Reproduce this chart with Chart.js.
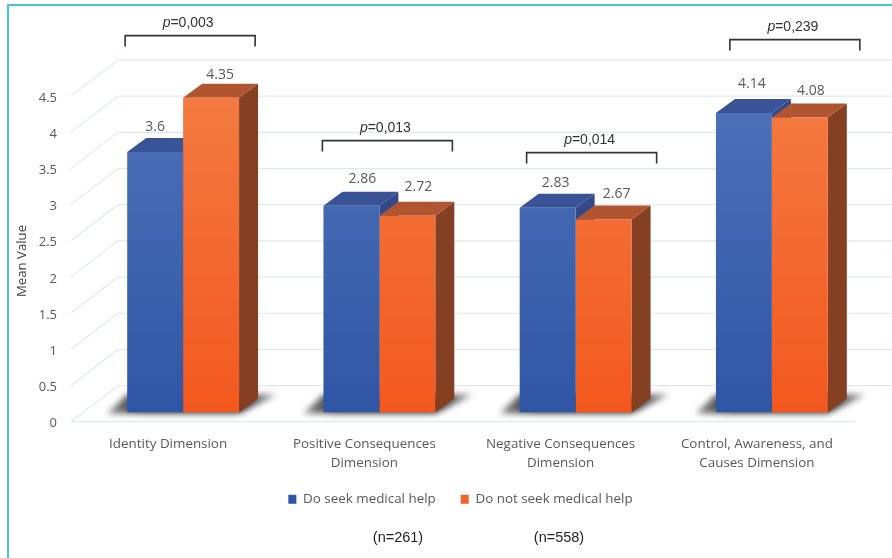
<!DOCTYPE html>
<html><head><meta charset="utf-8">
<style>html,body{margin:0;padding:0;background:#fff}#w{position:absolute;left:0;top:0;width:892px;height:558px}canvas{filter:blur(.4px)}</style>
<script src="https://cdn.jsdelivr.net/npm/chart.js@4"></script></head>
<body><div id="w"><canvas id="c" width="892" height="558"></canvas></div>
<script>
const categories=[['Identity Dimension'],['Positive Consequences','Dimension'],['Negative Consequences','Dimension'],['Control, Awareness, and','Causes Dimension']];
const seriesNames=['Do seek medical help','Do not seek medical help'];
const seekValues=[3.6,2.86,2.83,4.14];
const notSeekValues=[4.35,2.72,2.67,4.08];
const pLabels=['0,003','0,013','0,014','0,239'];
const sampleNotes=['(n=261)','(n=558)'];

const FONT='"Open Sans", sans-serif', TEXT='#595959', ARIAL='"Liberation Sans", Arial, sans-serif';
const GRID='#e2e9ec';
const faces=[{top:'#3a5396',side:'#34498a',hi:'#4f72b8',lo:'#2f55a5'},{top:'#b0552f',side:'#853f22',hi:'#f37b42',lo:'#f2581e'}];
const depth={x:19,y:14};
const wall={x:47,y:36,front:9};
const brackets=[{dx:7,top:377},{dx:8,top:272},{dx:16,top:260},{dx:23,top:373}];
const labelNudge=[[[0,-11],[9,-9]],[[11,-13],[11,-15]],[[8,-11],[13,-11]],[[8,-15],[11,-12]]];

function fillPoly(ctx,pts,fill){ctx.beginPath();pts.forEach((p,i)=>i?ctx.lineTo(p[0],p[1]):ctx.moveTo(p[0],p[1]));ctx.closePath();ctx.fillStyle=fill;ctx.fill();}
function gradient(ctx,area,hi,lo){const g=ctx.createLinearGradient(0,area.top,0,area.bottom);g.addColorStop(0,hi);g.addColorStop(1,lo);return g;}

const scene={id:'scene',
 afterLayout(chart){chart.legend.left+=18;chart.legend.right+=18;chart.scales.x.bottom+=25;},
 beforeDraw(chart){const c=chart.ctx;c.save();c.fillStyle='#fff';c.fillRect(0,0,892,558);
  c.strokeStyle='#45c6d6';c.lineWidth=2;c.beginPath();c.moveTo(8,558);c.lineTo(8,5);c.lineTo(892,5);c.stroke();c.restore();},
 beforeDatasetsDraw(chart){const c=chart.ctx,y=chart.scales.y,x=chart.scales.x;c.save();
  const L=x.left-14,R=x.right-15;
  c.strokeStyle=GRID;c.lineWidth=1.2;
  y.ticks.forEach(t=>{const py=y.getPixelForValue(t.value)+wall.front;
    c.beginPath();c.moveTo(L,py);c.lineTo(L+wall.x,py-wall.y);
    c.lineTo(R+wall.x,py-wall.y);c.stroke();});
  const b0=y.getPixelForValue(0)+wall.front;c.beginPath();c.moveTo(L,b0);c.lineTo(R,b0);c.stroke();
  const m0=chart.getDatasetMeta(0).data,m1=chart.getDatasetMeta(1).data;
  m0.forEach((bar,i)=>{const l=bar.x-bar.width/2,o=m1[i],r=o.x+o.width/2,b=bar.base;
    c.save();c.filter='blur(3px)';
    const g=c.createLinearGradient(l-22,0,r+41,0);g.addColorStop(0,'rgba(60,60,60,.55)');g.addColorStop(.2,'rgba(40,40,40,.95)');g.addColorStop(.8,'rgba(40,40,40,.95)');g.addColorStop(1,'rgba(80,80,80,.45)');
    fillPoly(c,[[l-20,b+1],[l,b-18],[r+38,b-18],[r,b+1]],g);c.restore();});
  [m0,m1].forEach((m,d)=>m.forEach(bar=>{const l=bar.x-bar.width/2,r=bar.x+bar.width/2,t=bar.y,b=bar.base;
    fillPoly(c,[[r,t],[r+depth.x,t-depth.y],[r+depth.x,b-depth.y],[r,b]],faces[d].side);
    fillPoly(c,[[l,t],[l+depth.x,t-depth.y],[r+depth.x,t-depth.y],[r,t]],faces[d].top);}));
  c.restore();},
 afterDatasetsDraw(chart){const c=chart.ctx,y=chart.scales.y,x=chart.scales.x;c.save();
  c.textAlign='center';c.textBaseline='middle';c.font='14px '+FONT;c.fillStyle=TEXT;
  [0,1].forEach(d=>chart.getDatasetMeta(d).data.forEach((bar,i)=>{
    const n=labelNudge[i][d];
    c.fillText(String(chart.data.datasets[d].data[i]),bar.x+n[0],bar.y-depth.y+n[1]);}));
  brackets.forEach((br,i)=>{const cx=x.getPixelForValue(i)+br.dx,top=y.getPixelForValue(0)-br.top;
    c.strokeStyle='#333';c.lineWidth=1.6;c.beginPath();
    c.moveTo(cx-65,top+11);c.lineTo(cx-65,top);c.lineTo(cx+65,top);c.lineTo(cx+65,top+11);c.stroke();
    c.fillStyle='#333';c.textAlign='left';c.font='italic 14px '+ARIAL;
    const pw=c.measureText('p').width;c.font='14px '+ARIAL;const rest='='+pLabels[i];const w=pw+c.measureText(rest).width;
    const sx=cx-2-w/2,ty=top-12;
    c.font='italic 14px '+ARIAL;c.fillText('p',sx,ty);c.font='14px '+ARIAL;c.fillText(rest,sx+pw,ty);});
  c.textAlign='center';c.fillStyle='#222';c.font='14.5px '+ARIAL;
  c.fillText(sampleNotes[0],398,538);c.fillText(sampleNotes[1],559,538);
  c.translate(22,261);c.rotate(-Math.PI/2);c.font='13.2px '+FONT;c.fillStyle='#404040';c.fillText('Mean Value',0,0);
  c.restore();}
};
Chart.register(scene);
new Chart(document.getElementById('c'),{type:'bar',
 data:{labels:categories,datasets:[
  {label:seriesNames[0],data:seekValues,backgroundColor:ctx=>ctx.chart.chartArea?gradient(ctx.chart.ctx,ctx.chart.chartArea,faces[0].hi,faces[0].lo):faces[0].lo},
  {label:seriesNames[1],data:notSeekValues,backgroundColor:ctx=>ctx.chart.chartArea?gradient(ctx.chart.ctx,ctx.chart.chartArea,faces[1].hi,faces[1].lo):faces[1].lo}]},
 options:{responsive:false,animation:false,
  layout:{padding:{left:15,right:22,top:87,bottom:42}},
  datasets:{bar:{categoryPercentage:.57,barPercentage:1}},
  plugins:{tooltip:{enabled:false},
   legend:{position:'bottom',labels:{boxWidth:8,boxHeight:9,padding:25,font:{family:FONT,size:13.4},color:TEXT,
     generateLabels:ch=>ch.data.datasets.map((d,i)=>({text:d.label,fillStyle:[faces[0].lo,'#f0642a'][i],strokeStyle:'transparent',lineWidth:0,datasetIndex:i,fontColor:TEXT}))}}},
  scales:{
   x:{grid:{display:false},border:{display:false},
      afterFit:s=>{s.height=55;},
      ticks:{padding:15,labelOffset:-15,maxRotation:0,autoSkip:false,color:TEXT,font:{family:FONT,size:13.4,lineHeight:1.35}}},
   y:{min:0,max:4.5,grid:{display:false,drawTicks:false},border:{display:false},
      afterFit:s=>{s.width=70;},
      ticks:{stepSize:.5,padding:28,labelOffset:11,color:TEXT,font:{family:FONT,size:13},callback:v=>String(v)}}
  }}});
</script></body></html>
